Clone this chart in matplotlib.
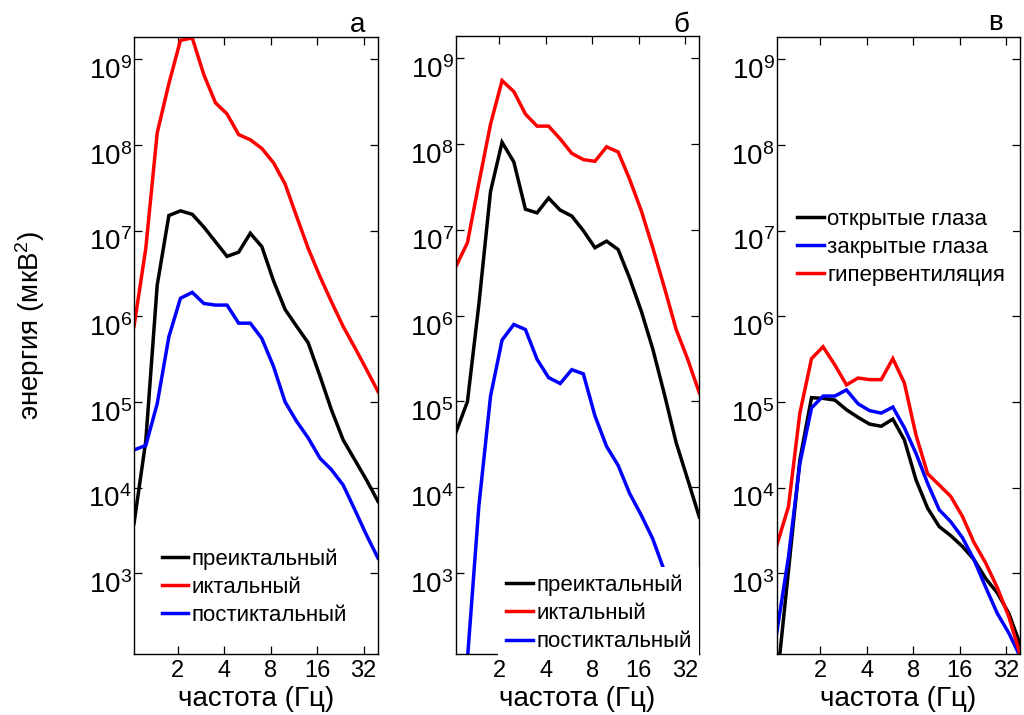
import matplotlib
matplotlib.use("Agg")
import matplotlib.pyplot as plt
from matplotlib.ticker import FixedLocator, FixedFormatter, NullLocator
from matplotlib.transforms import ScaledTranslation

plt.rcParams['font.family'] = ['Liberation Sans', 'DejaVu Sans']
plt.rcParams['mathtext.fontset'] = 'custom'
plt.rcParams['mathtext.rm'] = 'Liberation Sans'
plt.rcParams['mathtext.it'] = 'Liberation Sans:italic'
plt.rcParams['mathtext.bf'] = 'Liberation Sans:bold'

# ---------------- data ----------------
freq = [1.04, 1.24, 1.47, 1.75, 2.08, 2.48, 2.95, 3.51, 4.17, 4.96, 5.90,
        7.01, 8.34, 9.92, 11.8, 14.0, 16.7, 19.8, 23.6, 28.1, 33.4, 39.7]

# panel a
a_preictal = [3.8e3, 3.5e4, 2.3e6, 1.5e7, 1.7e7, 1.55e7, 1.1e7, 7.4e6, 5.0e6, 5.6e6, 9.3e6,
              6.5e6, 2.6e6, 1.2e6, 7.6e5, 4.9e5, 2.0e5, 8.1e4, 3.6e4, 2.1e4, 1.23e4, 6.9e3]
a_ictal = [7.6e5, 6.2e6, 1.38e8, 5.2e8, 1.66e9, 1.78e9, 6.6e8, 3.1e8, 2.3e8, 1.32e8, 1.15e8,
           9.1e7, 6.2e7, 3.5e7, 1.45e7, 6.2e6, 2.9e6, 1.48e6, 7.6e5, 4.3e5, 2.4e5, 1.32e5]
a_postictal = [2.75e4, 3.1e4, 9.5e4, 5.75e5, 1.62e6, 1.9e6, 1.41e6, 1.35e6, 1.35e6, 8.3e5, 8.3e5,
               5.5e5, 2.6e5, 1.0e5, 5.9e4, 3.8e4, 2.2e4, 1.62e4, 1.07e4, 5.5e3, 2.8e3, 1.5e3]

# panel b
b_preictal = [4.3e4, 1.0e5, 1.35e6, 2.8e7, 1.05e8, 6.2e7, 1.74e7, 1.58e7, 2.35e7, 1.7e7, 1.45e7,
              9.8e6, 6.2e6, 7.4e6, 5.9e6, 2.75e6, 1.12e6, 4.1e5, 1.2e5, 3.3e4, 1.23e4, 4.5e3]
b_ictal = [3.7e6, 7.1e6, 3.5e7, 1.7e8, 5.5e8, 4.1e8, 2.24e8, 1.62e8, 1.62e8, 1.15e8, 7.8e7,
           6.6e7, 6.3e7, 9.3e7, 8.1e7, 3.9e7, 1.66e7, 6.2e6, 2.1e6, 6.9e5, 3.1e5, 1.26e5]
b_postictal = [1.0e1, 1.0e2, 6.0e3, 1.15e5, 5.2e5, 7.9e5, 6.9e5, 3.1e5, 1.9e5, 1.62e5, 2.35e5,
               2.1e5, 6.8e4, 3.0e4, 1.8e4, 8.5e3, 4.7e3, 2.5e3, 1.05e3, 4.9e2, 2.2e2, 1.0e2]

# panel c
c_open = [5.0e1, 1.07e3, 2.1e4, 1.12e5, 1.1e5, 1.05e5, 8.1e4, 6.6e4, 5.5e4, 5.2e4, 6.3e4,
          3.6e4, 1.23e4, 5.75e3, 3.5e3, 2.75e3, 2.05e3, 1.45e3, 8.7e2, 5.9e2, 3.4e2, 1.45e2]
c_closed = [2.0e2, 1.55e3, 1.9e4, 8.5e4, 1.17e5, 1.17e5, 1.38e5, 9.5e4, 7.9e4, 7.4e4, 8.7e4,
            5.0e4, 2.5e4, 1.12e4, 5.5e3, 4.0e3, 2.6e3, 1.45e3, 6.9e2, 3.4e2, 2.0e2, 1.05e2]
c_hyper = [2.1e3, 6.0e3, 7.4e4, 3.2e5, 4.4e5, 2.7e5, 1.58e5, 1.9e5, 1.82e5, 1.82e5, 3.2e5,
           1.66e5, 4.1e4, 1.45e4, 1.07e4, 7.9e3, 4.6e3, 2.3e3, 1.32e3, 6.8e2, 3.1e2, 1.1e2]

labels_ab = ['преиктальный', 'иктальный', 'постиктальный']
labels_c = ['открытые глаза', 'закрытые глаза', 'гипервентиляция']
panel_letters = ['а', 'б', 'в']

xticks = [2, 4, 8, 16, 32]
xticklabels = ['2', '4', '8', '16', '32']
yexp = [3, 4, 5, 6, 7, 8, 9]
ylim = (114, 1.82e9)

# ---------------- layout ----------------
W, H = 1024, 715
fig = plt.figure(figsize=(W / 100, H / 100), dpi=100)

boxes = [(134, 37, 378, 654), (455.7, 36, 699.3, 654), (776.7, 37, 1020.4, 654)]
axes = []
for (l, t, r, b) in boxes:
    ax = fig.add_axes([l / W, 1 - b / H, (r - l) / W, (b - t) / H])
    axes.append(ax)

series = [
    [(a_preictal, 'black'), (a_ictal, 'red'), (a_postictal, 'blue')],
    [(b_preictal, 'black'), (b_ictal, 'red'), (b_postictal, 'blue')],
    [(c_open, 'black'), (c_closed, 'blue'), (c_hyper, 'red')],
]
leg_labels = [labels_ab, labels_ab, labels_c]
# legend anchor: (handle start x, middle row y) in px
leg_pos = [(161.7, 587), (506, 613.5), (797.3, 247.5)]
letter_pos = [(357.6, 32), (681, 32), (995, 30)]

fs_leg = 16
bp = 0.35
for i, ax in enumerate(axes):
    lines = []
    for (vals, col) in series[i]:
        ln, = ax.plot(freq, vals, color=col, lw=2.5, solid_joinstyle='miter')
        lines.append(ln)
    ax.set_xscale('log', base=2)
    ax.set_yscale('log')
    ax.set_xlim(freq[0], freq[-1])
    ax.set_ylim(*ylim)
    ax.xaxis.set_major_locator(FixedLocator(xticks))
    ax.xaxis.set_major_formatter(FixedFormatter(xticklabels))
    ax.xaxis.set_minor_locator(NullLocator())
    ax.yaxis.set_major_locator(FixedLocator([10.0 ** e for e in yexp]))
    ax.yaxis.set_major_formatter(FixedFormatter([r'$\mathregular{10^{%d}}$' % e for e in yexp]))
    ax.yaxis.set_minor_locator(NullLocator())
    ax.tick_params(axis='both', which='major', direction='in', length=6, width=0.9,
                   top=True, right=True, colors='black')
    ax.tick_params(axis='x', labelsize=17, pad=4.5)
    ax.tick_params(axis='y', labelsize=20, pad=1.5)
    for sp in ax.spines.values():
        sp.set_linewidth(1.0)
    ax.set_xlabel('частота (Гц)', fontsize=20, labelpad=3)
    off = ScaledTranslation(0, -0.09, fig.dpi_scale_trans)
    for lab in ax.get_yticklabels():
        lab.set_transform(lab.get_transform() + off)

    hx, hy = leg_pos[i]
    fs_px = fs_leg * 100 / 72
    leg = ax.legend(lines, leg_labels[i], loc='center left',
                    bbox_to_anchor=((hx - bp * fs_px) / W, 1 - hy / H),
                    bbox_transform=fig.transFigure, fontsize=fs_leg,
                    frameon=True, fancybox=False, framealpha=1.0,
                    edgecolor='none', facecolor='white', borderpad=bp,
                    handlelength=1.2, handletextpad=0.15, labelspacing=0.32,
                    borderaxespad=0)
    leg.set_zorder(10)

    lx, ly = letter_pos[i]
    fig.text(lx / W, 1 - ly / H, panel_letters[i], fontsize=20, ha='center', va='baseline')

fig.text(30 / W, 1 - 325 / H, 'энергия (мкВ$^{2}$)', fontsize=20, rotation=90,
         ha='center', va='center')

fig.savefig('out.png', dpi=100)
